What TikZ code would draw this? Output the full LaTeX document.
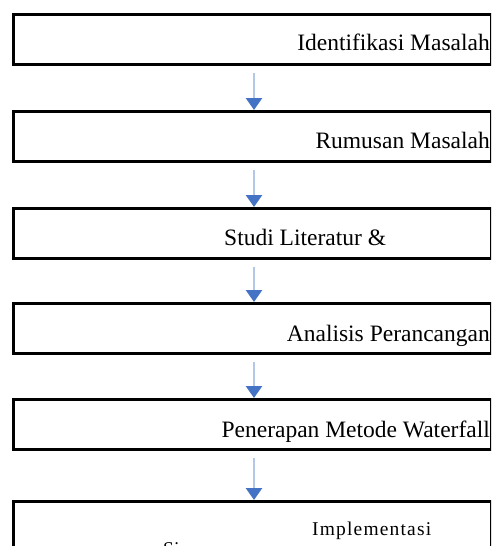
\documentclass[tikz,border=0pt]{standalone}
\usepackage{fontspec}
\setmainfont{Liberation Serif}
\usetikzlibrary{arrows.meta}
\definecolor{linkblue}{HTML}{B4C7E7}
\definecolor{tipblue}{HTML}{4472C4}
\tikzset{
  stepbox/.style={draw=black, line width=2.6pt, fill=white, rectangle, inner sep=0pt, minimum width=478pt, minimum height=50pt, anchor=north west},
  steptext/.style={font=\fontsize{23.5pt}{28pt}\selectfont, inner sep=0pt, anchor=base east},
  conn/.style={draw=linkblue, line width=2.6pt, -{Triangle[width=16pt,length=12pt,color=tipblue,fill=tipblue]}}
}
\begin{document}
\begin{tikzpicture}[x=1pt,y=1pt]
\useasboundingbox (0,0) rectangle (491,-546);
\clip (0,0) rectangle (491,-546);
\fill[white] (0,0) rectangle (491,-546);
\node[stepbox] (b1) at (12,-13) {};
\node[stepbox] (b2) at (12,-110) {};
\node[stepbox] (b3) at (12,-207) {};
\node[stepbox] (b4) at (12,-302) {};
\node[stepbox] (b5) at (12,-398) {};
\node[stepbox, minimum height=70pt] (b6) at (12,-500) {};
\node[steptext] (t1) at (490,-50) {Identifikasi Masalah};
\node[steptext] (t2) at (490,-148) {Rumusan Masalah};
\node[steptext, anchor=base west] (t3) at (224,-245) {Studi Literatur \&};
\node[steptext] (t4) at (490,-341) {Analisis Perancangan};
\node[steptext] (t5) at (490,-437) {Penerapan Metode Waterfall};
\node[steptext, anchor=base west, font=\fontsize{19.5pt}{24pt}\selectfont\addfontfeatures{LetterSpace=6}] (t6) at (312,-535) {Implementasi};
\node[steptext, anchor=base west, font=\fontsize{19.5pt}{24pt}\selectfont] (t7) at (163,-555) {Si};
\coordinate (ax) at (254,0);
\foreach \a/\b in {b1/b2,b2/b3,b3/b4,b4/b5,b5/b6}{
  \draw[conn] ([yshift=-7pt]\a.south -| ax) -- (\b.north -| ax);
}
\end{tikzpicture}
\end{document}
